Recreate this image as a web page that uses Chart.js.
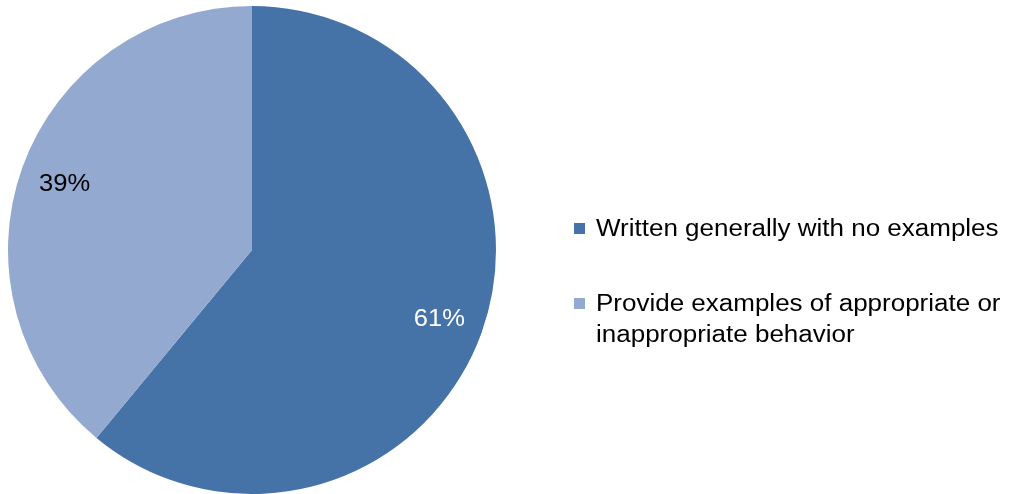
<!DOCTYPE html>
<html>
<head>
<meta charset="utf-8">
<script src="https://cdn.jsdelivr.net/npm/chart.js@4/dist/chart.umd.min.js"></script>
<style>
  html, body { margin: 0; padding: 0; background: #fff; }
  #wrap { position: relative; width: 1011px; height: 494px; overflow: hidden; }
  #c { position: absolute; left: 0; top: 0; }
  .leg { position: absolute; left: 0; top: 0; font-family: "Liberation Sans", Arial, sans-serif; font-size: 23px; line-height: 30.5px; color: #000; }
  .sw { position: absolute; width: 11px; height: 11px; }
  .txt { position: absolute; width: 362px; transform: scaleX(1.13); transform-origin: 0 0; }
</style>
</head>
<body>
<div id="wrap">
  <canvas id="c" width="1011" height="494"></canvas>
  <div class="leg" id="legend"></div>
</div>
<script>
const categories = ["Written generally with no examples", "Provide examples of appropriate or inappropriate behavior"];
const values = [61, 39];
const valueLabels = ["61%", "39%"];
const colors = ["#4573A7", "#94A9CF"];
const labelColors = ["#FFFFFF", "#000000"];

const labelPlugin = {
  id: 'sliceLabels',
  afterDatasetsDraw(chart) {
    const ctx = chart.ctx;
    const meta = chart.getDatasetMeta(0);
    meta.data.forEach((arc, i) => {
      const p = arc.getProps(['x', 'y', 'startAngle', 'endAngle', 'outerRadius'], true);
      const mid = (p.startAngle + p.endAngle) / 2;
      const r = p.outerRadius * 0.816;
      const cx = p.x + Math.cos(mid) * r;
      const cy = p.y + Math.sin(mid) * r;
      ctx.save();
      ctx.translate(cx, cy);
      ctx.scale(1.11, 1);
      ctx.font = '23px "Liberation Sans", Arial, sans-serif';
      ctx.fillStyle = labelColors[i];
      ctx.textAlign = 'center';
      ctx.textBaseline = 'alphabetic';
      ctx.fillText(valueLabels[i], 0, 8.2);
      ctx.restore();
    });
  }
};

new Chart(document.getElementById('c'), {
  type: 'pie',
  data: {
    labels: categories,
    datasets: [{
      data: values,
      backgroundColor: colors,
      borderWidth: 0,
      hoverOffset: 0
    }]
  },
  options: {
    responsive: false,
    animation: false,
    events: [],
    layout: { padding: { left: 8, top: 6, right: 515, bottom: 0 } },
    plugins: {
      legend: { display: false },
      tooltip: { enabled: false }
    }
  },
  plugins: [labelPlugin]
});

// HTML legend built from the arrays
const leg = document.getElementById('legend');
const baselines = [236.5, 311.5];
categories.forEach((name, i) => {
  const sw = document.createElement('div');
  sw.className = 'sw';
  sw.style.left = '574px';
  sw.style.top = (baselines[i] - 13.5) + 'px';
  sw.style.background = colors[i];
  leg.appendChild(sw);
  const t = document.createElement('div');
  t.className = 'txt';
  t.style.left = '596px';
  t.style.top = (baselines[i] - 23.2) + 'px';
  t.textContent = name;
  leg.appendChild(t);
});
</script>
</body>
</html>
